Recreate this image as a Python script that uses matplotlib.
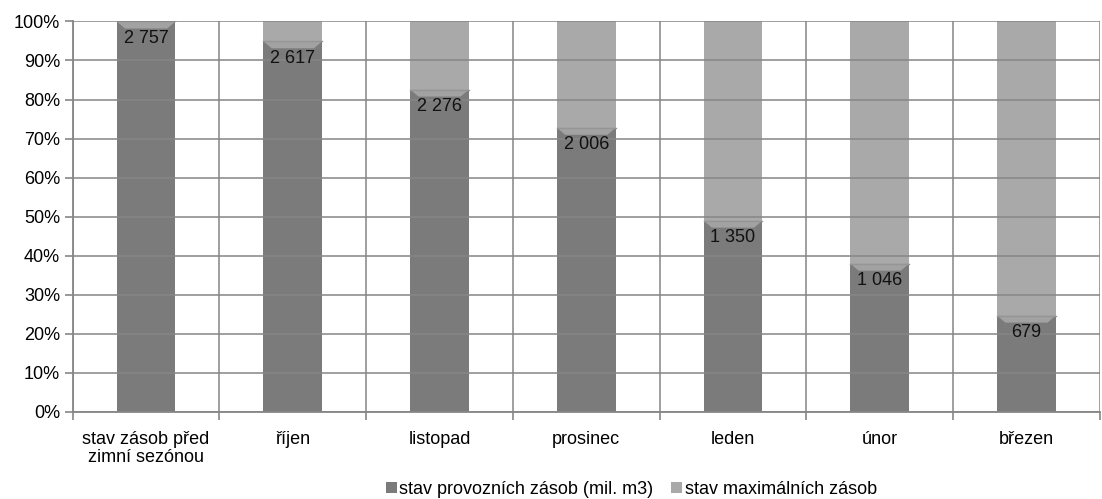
import matplotlib
matplotlib.use("Agg")
import matplotlib.pyplot as plt
from matplotlib.patches import Polygon
from matplotlib.ticker import PercentFormatter, FixedLocator
import numpy as np

# data (mil. m3)
categories = ["stav zásob před\nzimní sezónou", "říjen", "listopad", "prosinec",
              "leden", "únor", "březen"]
provozni = [2757, 2617, 2276, 2006, 1350, 1046, 679]
maximalni = [0, 140, 481, 751, 1407, 1711, 2078]
labels = ["2 757", "2 617", "2 276", "2 006", "1 350", "1 046", "679"]

DARK = "#7b7b7b"
LIGHT = "#a9a9a9"
BEVEL = "#a2a2a2"
GRID = "#868686"

plt.rcParams["font.family"] = ["Liberation Sans", "DejaVu Sans"]
plt.rcParams["font.size"] = 13

fig = plt.figure(figsize=(11.02, 4.99), dpi=100)
ax = fig.add_axes([0.066, 0.175, 0.932, 0.782])

prov = np.array(provozni, dtype=float)
maxi = np.array(maximalni, dtype=float)
total = prov + maxi
p1 = prov / total * 100
p2 = maxi / total * 100

x = np.arange(len(categories))
w = 0.4
b1 = ax.bar(x, p1, width=w, color=DARK, zorder=1, label="stav provozních zásob (mil. m3)")
b2 = ax.bar(x, p2, width=w, bottom=p1, color=LIGHT, zorder=1, label="stav maximálních zásob")

# bevel on top of the dark segments
for bar in b1:
    x0 = bar.get_x()
    bw = bar.get_width()
    top = bar.get_height()
    d = 1.8
    ax.add_patch(Polygon([(x0, top), (x0 + bw, top), (x0 + bw * 0.86, top - d),
                          (x0 + bw * 0.14, top - d)], closed=True,
                         facecolor=BEVEL, edgecolor="none", zorder=1.5))
    ax.plot([x0, x0 + bw], [top, top], color="#959595", lw=1.0, zorder=1.6)

for bar, lab in zip(b1, labels):
    ax.text(bar.get_x() + bar.get_width() / 2, bar.get_height() - 4.4, lab,
            ha="center", va="center", fontsize=13, color="#111111", zorder=6)

ax.set_xlim(-0.5, len(categories) - 0.5)
ax.set_ylim(0, 100)
ax.yaxis.set_major_locator(FixedLocator(np.arange(0, 101, 10)))
ax.yaxis.set_major_formatter(PercentFormatter(decimals=0))
ax.set_xticks(x)
ax.set_xticklabels(categories, fontsize=13, linespacing=1.05)
ax.xaxis.set_minor_locator(FixedLocator(np.arange(-0.5, len(categories), 1)))
ax.tick_params(axis="x", which="major", length=0, pad=14)
ax.tick_params(axis="x", which="minor", length=6, color=GRID, width=1.2)
ax.tick_params(axis="y", length=6, color=GRID, width=1.2, labelsize=13, pad=3)

ax.grid(axis="y", which="major", color=GRID, lw=1.3, zorder=2, alpha=0.85)
ax.grid(axis="x", which="minor", color=GRID, lw=1.3, zorder=2, alpha=0.85)
ax.set_axisbelow(False)
for s in ax.spines.values():
    s.set_color(GRID)
    s.set_linewidth(1.3)
ax.spines["top"].set_visible(False)
ax.spines["right"].set_visible(False)

fig.legend(handles=[b1, b2], loc="lower center", bbox_to_anchor=(0.573, -0.03),
           ncol=2, frameon=False, fontsize=13, handlelength=0.6, handleheight=0.6,
           handletextpad=0.15, columnspacing=1.0)

plt.savefig("out.png", dpi=100)
